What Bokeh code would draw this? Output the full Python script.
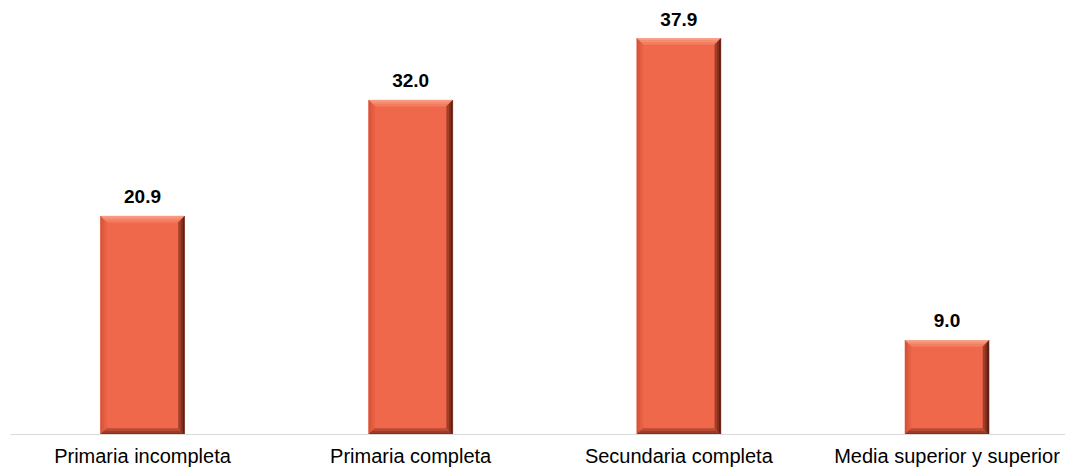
from bokeh.plotting import figure
from bokeh.models import Range1d, FixedTicker, ColumnDataSource, LabelSet
from bokeh.core.properties import value
from bokeh.embed import file_html
from bokeh.resources import INLINE

categories = ["Primaria incompleta", "Primaria completa", "Secundaria completa", "Media superior y superior"]
values = [20.9, 32.0, 37.9, 9.0]
value_labels = ["20.9", "32.0", "37.9", "9.0"]

W, H = 1065, 469
left_border = 10
axis_size = 37
frame_h = H - axis_size
px_per_unit_x = 268.17
px_per_unit_y = 10.4
x0 = (left_border - 142) / px_per_unit_x
x1 = x0 + (W - left_border) / px_per_unit_x
y1 = frame_h / px_per_unit_y

p = figure(width=W, height=H, output_backend="svg", toolbar_location=None,
           x_range=Range1d(x0, x1), y_range=Range1d(0, y1),
           min_border_left=left_border, min_border_right=0, min_border_top=0, min_border_bottom=0)
p.outline_line_color = None
p.xgrid.visible = False
p.ygrid.visible = False
p.yaxis.visible = False
p.background_fill_color = "white"
p.border_fill_color = "white"

xs = list(range(len(categories)))
half = 84 / px_per_unit_x / 2

# main bar body
p.vbar(x=xs, top=values, bottom=0, width=2 * half, fill_color="#F0684B", line_color=None)

# bevel rings
dx = 6 / px_per_unit_x
dy = 6 / px_per_unit_y
steps = 3

def mix(c1, c2, t):
    a = [int(c1[i:i + 2], 16) for i in (1, 3, 5)]
    b = [int(c2[i:i + 2], 16) for i in (1, 3, 5)]
    return "#%02x%02x%02x" % tuple(round(a[i] + (b[i] - a[i]) * t) for i in range(3))

bev = {
    "top": ("#F8A48E", "#F27658"),
    "left": ("#D45037", "#EA6447"),
    "right": ("#4A1A10", "#B4452F"),
    "bottom": ("#6E2A1C", "#C8533A"),
}
pxs, pys, pcs = [], [], []
for xc, v in zip(xs, values):
    L, R, B, T = xc - half, xc + half, 0.0, v
    for k in range(steps):
        a, b = k / steps, (k + 1) / steps
        t = (k + 0.5) / steps
        oL, oR, oB, oT = L + dx * a, R - dx * a, B + dy * a, T - dy * a
        iL, iR, iB, iT = L + dx * b, R - dx * b, B + dy * b, T - dy * b
        pxs.append([oL, oR, iR, iL]); pys.append([oT, oT, iT, iT]); pcs.append(mix(*bev["top"], t))
        pxs.append([oL, iL, iL, oL]); pys.append([oT, iT, iB, oB]); pcs.append(mix(*bev["left"], t))
        pxs.append([oR, iR, iR, oR]); pys.append([oT, iT, iB, oB]); pcs.append(mix(*bev["right"], t))
        pxs.append([oL, oR, iR, iL]); pys.append([oB, oB, iB, iB]); pcs.append(mix(*bev["bottom"], t))
p.patches(xs=pxs, ys=pys, fill_color=pcs, line_color=pcs, line_width=0.5)

src = ColumnDataSource(dict(x=xs, y=values, t=value_labels))
labels = LabelSet(x="x", y="y", text="t", source=src, y_offset=13, text_align="center",
                  text_baseline="alphabetic", text_font=value("Liberation Sans"), text_font_style="bold",
                  text_font_size="19px", text_color="black")
p.add_layout(labels)

p.xaxis.ticker = FixedTicker(ticks=xs)
p.xaxis.major_label_overrides = {i: c for i, c in zip(xs, categories)}
p.xaxis.major_tick_line_color = None
p.xaxis.minor_tick_line_color = None
p.xaxis.axis_line_color = "#D9D9D9"
p.xaxis.axis_line_width = 1
p.xaxis.major_label_standoff = 4
p.xaxis.major_label_text_font = "Liberation Sans"
p.xaxis.major_label_text_font_size = "20px"
p.xaxis.major_label_text_color = "black"

open("out.html", "w").write(file_html(p, INLINE))
